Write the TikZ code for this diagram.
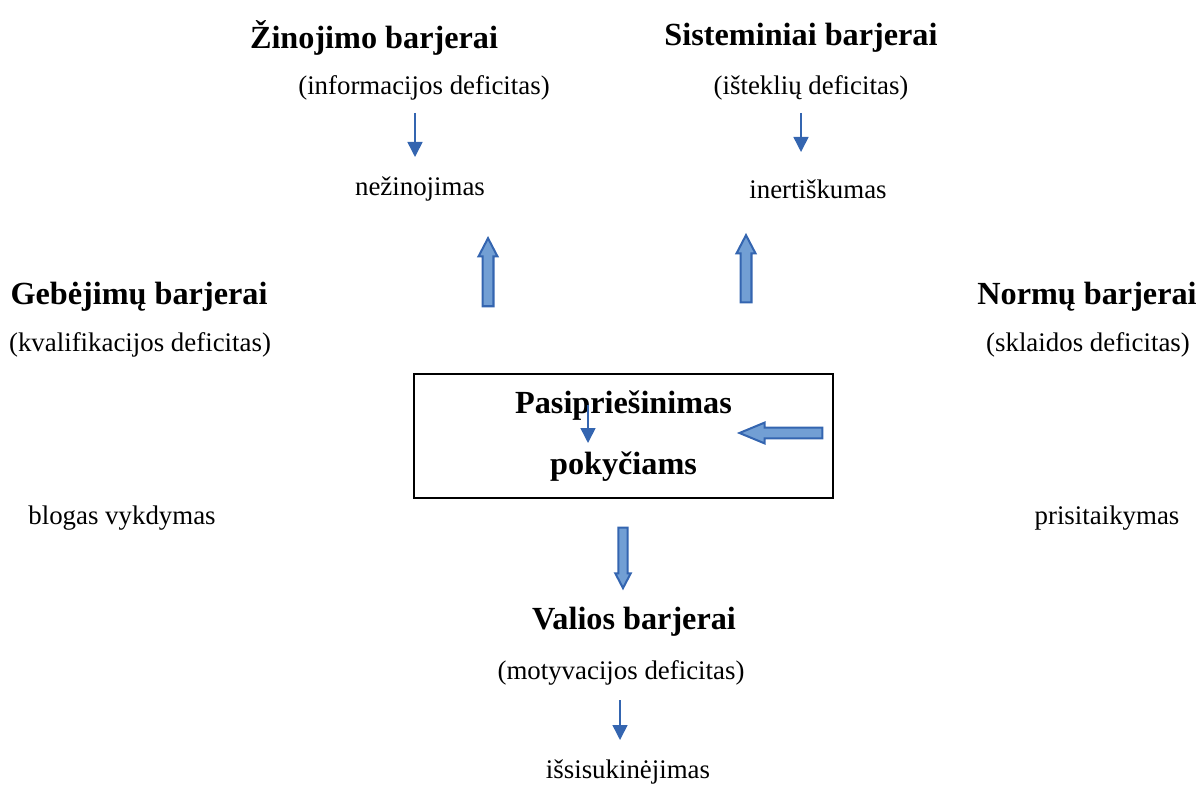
\documentclass[tikz,border=0pt]{standalone}
\usepackage{fontspec}
\setmainfont{Liberation Serif}
\usetikzlibrary{positioning,shapes.arrows,arrows.meta}

\definecolor{arrowblue}{RGB}{52,101,176}
\definecolor{blockfill}{RGB}{114,159,212}

\tikzset{
  title/.style={font=\fontsize{14.4}{17}\selectfont\bfseries, inner sep=0pt},
  note/.style={font=\fontsize{12}{14}\selectfont, inner sep=0pt},
  thinarrow/.style={draw=arrowblue, line width=0.7pt, -{Triangle[width=6.7pt,length=6.7pt]}},
  blockarrow/.style={single arrow, draw=arrowblue, fill=blockfill, line width=0.9pt,
    inner xsep=0pt, inner ysep=2pt, minimum width=0pt, single arrow head extend=1.8pt,
    single arrow tip angle=55, single arrow head indent=0pt}
}

\begin{document}
\begin{tikzpicture}[x=0.0157cm, y=-0.0157cm]
          \useasboundingbox (0,0) rectangle (1198,785);

          % Define the nodes of the top barriers
          \node[title] (zin) at (374,38) {Žinojimo barjerai};
          \node[note] (zinD) at (424,88) {(informacijos deficitas)};
          \node[note] (nez) at (420,189) {nežinojimas};

          \node[title] (sis) at (801,38) {Sisteminiai barjerai};
          \node[note] (sisD) at (811,88) {(išteklių deficitas)};
          \node[note] (ine) at (818,189) {inertiškumas};

          % Define the nodes of the side barriers
          \node[title] (geb) at (139,297) {Gebėjimų barjerai};
          \node[note] (gebD) at (140,345) {(kvalifikacijos deficitas)};
          \node[note] (blo) at (122,518) {blogas vykdymas};

          \node[title] (nor) at (1087,297) {Normų barjerai};
          \node[note] (norD) at (1088,345) {(sklaidos deficitas)};
          \node[note] (pri) at (1107,518) {prisitaikymas};

          % Define the central box
          \node[draw, line width=0.6pt, minimum width=187.3pt, minimum height=55.4pt,
                align=center, font=\fontsize{14.4}{27}\selectfont\bfseries]
                (res) at (623.5,436) {Pasipriešinimas\\pokyčiams};

          % Define the nodes of the bottom barriers
          \node[title] (val) at (634,622) {Valios barjerai};
          \node[note] (valD) at (621,673) {(motyvacijos deficitas)};
          \node[note] (isi) at (628,772) {išsisukinėjimas};

          % Thin arrows
          \coordinate (t1a) at (415,113);
          \coordinate (t1b) at (415,157);
          \coordinate (t2a) at (801,113);
          \coordinate (t2b) at (801,152);
          \coordinate (t3a) at (588,405);
          \coordinate (t3b) at (588,443);
          \coordinate (t4a) at (620,700);
          \coordinate (t4b) at (620,740);
          \draw[thinarrow] (t1a) -- (t1b);
          \draw[thinarrow] (t2a) -- (t2b);
          \draw[thinarrow] (t3a) -- (t3b);
          \draw[thinarrow] (t4a) -- (t4b);

          % Block arrows
          \node[blockarrow, rotate=90, minimum height=30.4pt] (upL) at (488,277.5) {};
          \node[blockarrow, rotate=90, minimum height=30pt] (upR) at (746,274) {};
          \node[blockarrow, rotate=180, minimum height=37pt, single arrow tip angle=45,
                single arrow head extend=2.2pt] (left) at (787.5,433) {};
          \node[blockarrow, rotate=-90, minimum height=27pt, inner ysep=1.6pt,
                single arrow head extend=1.4pt] (down) at (623,553.5) {};

\end{tikzpicture}
\end{document}
